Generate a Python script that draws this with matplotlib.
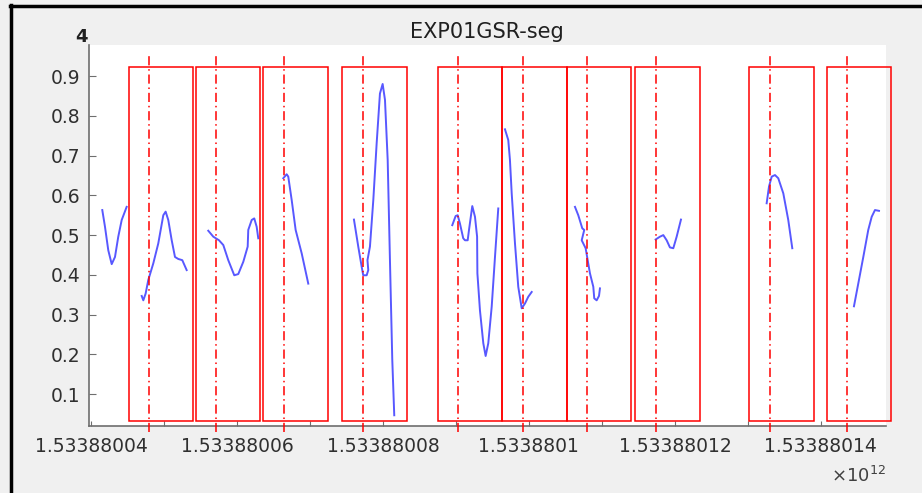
import numpy as np
import matplotlib
matplotlib.use('Agg')
from matplotlib import pyplot as plt
from matplotlib.patches import Rectangle
from matplotlib.lines import Line2D

# base timestamp (ms) of the recording window
T0 = 1533880040000

# GSR segments: time offset from T0 (ms) and value
seg_a_t = [1550, 1920, 2370, 2840, 3290, 3740, 4210, 4890]
seg_a_v = [0.563, 0.521, 0.462, 0.427, 0.445, 0.496, 0.538, 0.571]
seg_b_t = [6950, 7170, 7490, 7850, 8540, 9220, 9910, 10230, 10590, 11060, 11510, 11960, 12510, 13110]
seg_b_v = [0.347, 0.336, 0.353, 0.387, 0.429, 0.479, 0.550, 0.559, 0.538, 0.487, 0.445, 0.440, 0.437, 0.412]
seg_c_t = [16070, 16760, 17540, 18130, 18810, 19630, 20180, 20870, 21470, 21550, 22020, 22370, 22700, 22920]
seg_c_v = [0.511, 0.496, 0.487, 0.475, 0.437, 0.399, 0.402, 0.433, 0.471, 0.513, 0.538, 0.542, 0.521, 0.492]
seg_d_t = [26350, 26810, 27030, 27500, 28040, 28870, 29770]
seg_d_v = [0.643, 0.653, 0.647, 0.588, 0.513, 0.454, 0.378]
seg_e_t = [36030, 36620, 37090, 37300, 37770, 37990, 37880, 38220, 38680, 39140, 39590, 39960, 40280, 40650, 40960, 41280, 41550]
seg_e_v = [0.539, 0.471, 0.420, 0.399, 0.399, 0.412, 0.437, 0.471, 0.588, 0.731, 0.856, 0.880, 0.840, 0.689, 0.437, 0.186, 0.047]
seg_f_t = [49500, 49960, 50240, 50550, 51000, 51240, 51610, 51790, 52240, 52610, 52900, 52940, 53290, 53750, 54070, 54430, 54900, 55350, 55800]
seg_f_v = [0.525, 0.548, 0.550, 0.529, 0.492, 0.487, 0.487, 0.513, 0.573, 0.546, 0.496, 0.404, 0.311, 0.228, 0.196, 0.228, 0.320, 0.445, 0.567]
seg_g_t = [56720, 57170, 57400, 57640, 58090, 58540, 59010, 59460, 59910, 60380]
seg_g_v = [0.766, 0.739, 0.689, 0.605, 0.479, 0.370, 0.316, 0.328, 0.345, 0.357]
seg_h_t = [66310, 66760, 67310, 67580, 67230, 67770, 68050, 68360, 68820, 68950, 69280, 69600, 69730]
seg_h_v = [0.571, 0.550, 0.517, 0.513, 0.487, 0.467, 0.437, 0.404, 0.370, 0.341, 0.336, 0.347, 0.366]
seg_i_t = [77360, 77950, 78410, 78870, 79320, 79780, 80240, 80830]
seg_i_v = [0.489, 0.496, 0.500, 0.487, 0.469, 0.467, 0.496, 0.539]
seg_j_t = [92570, 92890, 93260, 93710, 94160, 94850, 95530, 96080]
seg_j_v = [0.580, 0.622, 0.647, 0.651, 0.643, 0.605, 0.538, 0.467]
seg_k_t = [104530, 105120, 105810, 106490, 106960, 107410, 107960]
seg_k_v = [0.321, 0.378, 0.445, 0.513, 0.546, 0.563, 0.561]

segments = [(seg_a_t, seg_a_v), (seg_b_t, seg_b_v), (seg_c_t, seg_c_v), (seg_d_t, seg_d_v),
             (seg_e_t, seg_e_v), (seg_f_t, seg_f_v), (seg_g_t, seg_g_v), (seg_h_t, seg_h_v),
             (seg_i_t, seg_i_v), (seg_j_t, seg_j_v), (seg_k_t, seg_k_v)]

# event markers (ms offset from T0) and window around each event
events = [7946, 17166, 26400, 37223, 50320, 59143, 67952, 77364, 92982, 103613]
win_pre = 2800
win_post = 6050
win_low = 0.032
win_high = 0.923
event_top = 0.958

xtick_offsets = [0, 10000, 20000, 30000, 40000, 50000, 60000, 70000, 80000, 90000, 100000]
xtick_labels = ['1.53388004', '', '1.53388006', '', '1.53388008', '',
                '1.5338801', '', '1.53388012', '', '1.53388014']
yticks = [0.1, 0.2, 0.3, 0.4, 0.5, 0.6, 0.7, 0.8, 0.9]

plt.rcParams['font.family'] = ['DejaVu Sans']

fig = plt.figure(figsize=(9.22, 4.93), dpi=100, facecolor='#f0f0f0')
ax = fig.add_axes([89/922, 1 - 426/493, (886 - 89)/922, (426 - 45)/493])
ax.set_facecolor('white')

for t, v in segments:
    ax.plot(T0 + np.array(t), v, color='#5858ff', lw=1.4, solid_joinstyle='round')

for ev in events:
    ax.add_patch(Rectangle((T0 + ev - win_pre, win_low), win_pre + win_post, win_high - win_low,
                           fill=False, edgecolor='red', lw=1.1, clip_on=False, zorder=3))
    ax.plot([T0 + ev, T0 + ev], [0.005, event_top], color='red', lw=1.1,
            dashes=(6, 2.5, 1, 2.5), clip_on=False, zorder=3)

ax.set_xlim(T0 - 270, T0 + 108920)
ax.set_ylim(0.02, 0.978)
ax.set_xticks([T0 + x for x in xtick_offsets])
ax.set_xticklabels(xtick_labels)
ax.set_yticks(yticks)
ax.set_yticklabels(['%.1f' % y for y in yticks])

for s in ['top', 'right']:
    ax.spines[s].set_visible(False)
for s in ['left', 'bottom']:
    ax.spines[s].set_color('#6e6e6e')
    ax.spines[s].set_linewidth(1.2)
ax.tick_params(axis='y', direction='in', length=5, color='#6e6e6e', labelsize=13.5,
               labelcolor='#303030', pad=6)
ax.tick_params(axis='x', direction='in', length=3.5, color='#6e6e6e', labelsize=13.5,
               labelcolor='#303030', pad=8)

fig.text(487 / 922, 1 - 32 / 493, 'EXP01GSR-seg', ha='center', va='center',
         fontsize=15, color='#202020')
fig.text(81 / 922, 1 - 37 / 493, '4', ha='center', va='center', fontsize=13,
         fontweight='bold', color='#202020')
fig.text(886 / 922, 1 - 476 / 493, r'$\times$10$^{12}$', ha='right', va='center',
         fontsize=13, color='#404040')

# screenshot frame
fig.add_artist(Line2D([11 / 922, 11 / 922], [0, 1 - 5 / 493], color='black', lw=2.5))
fig.add_artist(Line2D([10 / 922, 1], [1 - 6 / 493, 1 - 6 / 493], color='black', lw=2.5))

fig.savefig('out.png', dpi=100, facecolor=fig.get_facecolor())
